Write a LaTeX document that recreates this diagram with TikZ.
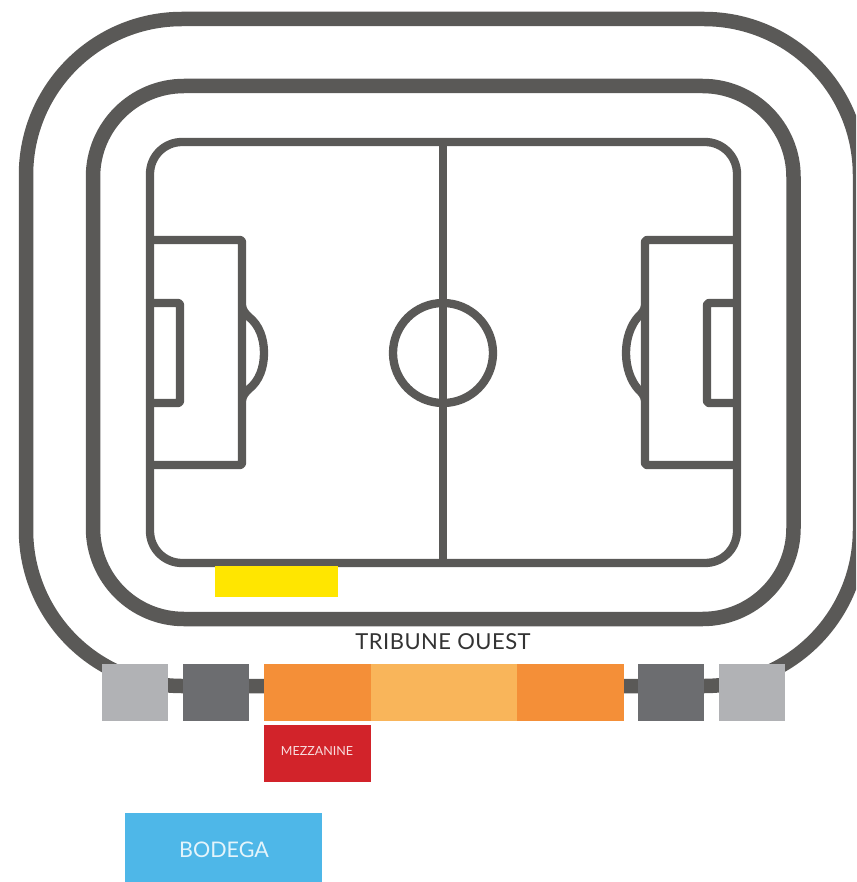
\documentclass[tikz,border=0pt]{standalone}
\usepackage{fontspec}
\setmainfont{Lato}
\newfontfamily\spaced[LetterSpace=2.2]{Lato}
\definecolor{ink}{HTML}{5A5957}
\definecolor{lgray}{HTML}{B1B2B5}
\definecolor{dgray}{HTML}{6C6D70}
\definecolor{orng}{HTML}{F48F38}
\definecolor{lorng}{HTML}{F9B55A}
\definecolor{redb}{HTML}{D2232A}
\definecolor{blueb}{HTML}{4EB7E8}
\definecolor{yel}{HTML}{FFE600}
\definecolor{txt}{HTML}{333333}
\tikzset{
  thick ring/.style={draw=ink,line width=14.5pt},
  pitch line/.style={draw=ink,line width=8.3pt,line join=round},
  block/.style={inner sep=0pt,outer sep=0pt,anchor=north west},
}
\newcommand{\blk}[6]{\node[block,fill=#6,minimum width=#3pt-#1pt,minimum height=#4pt-#2pt] (#5) at (#1,#2) {};}
\begin{document}
\begin{tikzpicture}[x=1pt,y=-1pt]
\useasboundingbox (0,0) rectangle (856,882);
\begin{scope}
\clip (0,0) rectangle (856,882);
\draw[thick ring,rounded corners=156pt] (26,19) rectangle (860,686);
\draw[thick ring,rounded corners=91pt] (93,86) rectangle (793.5,619);
\draw[pitch line,rounded corners=32pt] (150,142) rectangle (737,563);
\end{scope}
% halfway line and centre circle
\draw[pitch line] (443,142) -- (443,563);
\draw[pitch line] (443,353) circle[radius=50];
% left penalty area
\draw[pitch line,rounded corners=2pt] (150,240) -- (242,240) -- (242,465) -- (150,465);
\draw[pitch line,rounded corners=2pt] (150,303) -- (180,303) -- (180,403) -- (150,403);
\draw[pitch line] (242,306) .. controls (243,311) and (245,313) .. (249,317) .. controls (259,325) and (264,338) .. (264,353) .. controls (264,368) and (259,381) .. (249,389) .. controls (245,393) and (243,395) .. (242,400);
% right penalty area
\draw[pitch line,rounded corners=2pt] (737,240) -- (645,240) -- (645,465) -- (737,465);
\draw[pitch line,rounded corners=2pt] (737,303) -- (707,303) -- (707,403) -- (737,403);
\draw[pitch line] (645,306) .. controls (644,311) and (642,313) .. (638,317) .. controls (631,325) and (626,338) .. (626,353) .. controls (626,368) and (631,381) .. (638,389) .. controls (642,393) and (644,395) .. (645,400);
% blocks
\blk{215}{566}{338}{597}{yellowb}{yel}
\blk{102}{664}{168}{721}{g1}{lgray}
\blk{183}{664}{249}{721}{d1}{dgray}
\blk{264}{664}{371}{721}{o1}{orng}
\blk{371}{664}{517}{721}{o2}{lorng}
\blk{517}{664}{624}{721}{o3}{orng}
\blk{638}{664}{704}{721}{d2}{dgray}
\blk{719}{664}{785}{721}{g2}{lgray}
\blk{264}{725}{371}{782}{mezz}{redb}
\blk{125}{813}{322}{882}{bod}{blueb}
\node[text=white!85!redb,font=\fontsize{12.5}{14}\selectfont,inner sep=0pt] (mezzt) at (317,751) {MEZZANINE};
\node[text=white!85!blueb,font=\fontsize{21.5}{26}\selectfont,inner sep=0pt] (bodt) at (224,850) {BODEGA};
\node[text=txt,font=\spaced\fontsize{22}{26}\selectfont,inner sep=0pt] (trib) at (443,642) {TRIBUNE OUEST};
\end{tikzpicture}
\end{document}
